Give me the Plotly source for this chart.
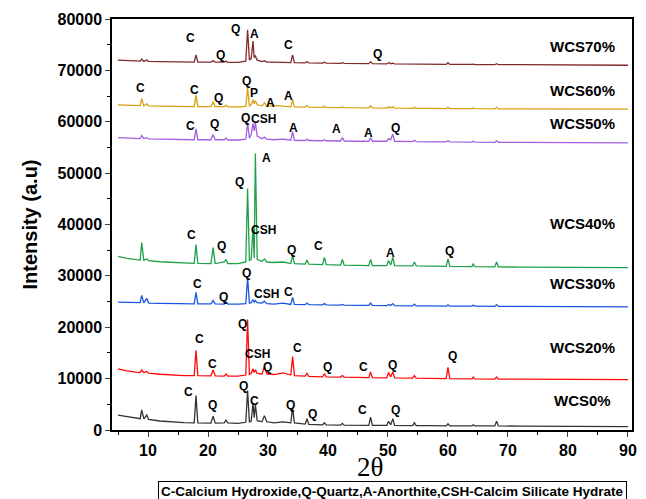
import plotly.graph_objects as go

# 2-theta positions shared by all patterns
two_theta = [5, 6.5, 8, 8.7, 8.95, 9.3, 9.8, 10.1, 12, 14, 16, 17.7, 18.0, 18.3, 20.5, 20.85, 21.2,
             22.7, 23.0, 23.3, 25, 26.3, 26.6, 26.9, 27.2, 27.5, 27.7, 27.9, 28.2, 29.0, 29.4, 29.8,
             31, 32.5, 33.8, 34.1, 34.4, 36.2, 36.5, 36.8, 39.1, 39.4, 39.7, 42.1, 42.4, 42.7, 45,
             46.8, 47.1, 47.4, 49.8, 50.1, 50.45, 50.8, 51.1, 54.1, 54.4, 54.7, 57, 59.7, 60.0, 60.3,
             64.0, 64.2, 64.5, 67.8, 68.1, 68.4, 72, 76, 80, 85, 90]

wcs0 = [2900, 2600, 2300, 2200, 3900, 2150, 2900, 2050, 1750, 1550, 1450, 1400, 6700, 1400, 1350, 2700, 1350,
        1400, 1900, 1400, 1300, 1500, 7700, 1600, 1700, 5300, 2400, 5000, 1800, 1600, 2800, 1600,
        1400, 1600, 1400, 4300, 1400, 1150, 2200, 1100, 1000, 1400, 1000, 950, 1300, 950, 900,
        900, 2500, 900, 900, 1700, 1000, 2200, 900, 850, 1400, 850, 850, 800, 1200, 800,
        800, 1000, 800, 800, 1700, 800, 750, 750, 700, 700, 650]

wcs20 = [11900, 11500, 11250, 11200, 11700, 11150, 11400, 11050, 10850, 10700, 10600, 10600, 15500, 10600, 10550, 11700, 10550,
         10500, 10900, 10500, 10500, 10700, 21500, 10800, 11000, 11900, 11200, 11700, 11000, 10900, 12300, 10900,
         10800, 11100, 10700, 14300, 10600, 10500, 11000, 10450, 10350, 10900, 10350, 10300, 10600, 10300, 10250,
         10200, 11300, 10200, 10150, 11200, 10300, 11300, 10150, 10100, 10600, 10100, 10050, 10000, 12200, 10000,
         9950, 10300, 9950, 9900, 10300, 9900, 9900, 9850, 9850, 9800, 9800]

wcs30 = [24900, 24850, 24800, 24800, 26200, 24750, 25600, 24700, 24650, 24600, 24600, 24550, 26800, 24550, 24550, 25200, 24550,
         24500, 25000, 24500, 24500, 24600, 29700, 24700, 24800, 25400, 24900, 25200, 24800, 24700, 25100, 24600,
         24500, 24700, 24450, 25800, 24450, 24400, 24700, 24400, 24350, 24600, 24350, 24300, 24450, 24300, 24250,
         24250, 24700, 24250, 24200, 24450, 24250, 24600, 24200, 24150, 24500, 24150, 24150, 24100, 24350, 24100,
         24100, 24300, 24100, 24050, 24400, 24050, 24050, 24000, 24000, 24000, 23950]

wcs40 = [33800, 33400, 33150, 33100, 36500, 33050, 33300, 32950, 32750, 32600, 32500, 32450, 36100, 32450, 32400, 35500, 32400,
         32700, 33200, 32400, 32400, 32700, 47000, 33000, 33200, 39200, 33500, 53800, 33200, 32800, 33300, 32700,
         32600, 32700, 32400, 34000, 32400, 32300, 33100, 32300, 32200, 33600, 32200, 32100, 33200, 32100, 32050,
         32000, 33200, 32000, 32000, 33000, 32100, 33600, 32000, 31950, 32700, 31950, 31900, 31850, 33300, 31850,
         31800, 32300, 31800, 31750, 32700, 31750, 31700, 31650, 31650, 31600, 31600]

wcs50 = [56900, 56800, 56750, 56700, 57300, 56700, 56900, 56650, 56600, 56550, 56550, 56500, 58600, 56500, 56500, 57500, 56500,
         56500, 56800, 56450, 56450, 56600, 59800, 56800, 57500, 59700, 58200, 59800, 57200, 56700, 57000, 56600,
         56500, 56600, 56400, 58100, 56400, 56350, 56600, 56350, 56300, 56500, 56300, 56250, 56900, 56250, 56200,
         56200, 56900, 56200, 56200, 56700, 56500, 57600, 56200, 56150, 56400, 56150, 56100, 56100, 56300, 56100,
         56050, 56200, 56050, 56000, 56300, 56000, 56000, 55950, 55950, 55900, 55900]

wcs60 = [63300, 63200, 63150, 63150, 64500, 63100, 63500, 63100, 63050, 63000, 63000, 62950, 65200, 62950, 62950, 63900, 62950,
         62950, 63200, 62900, 62900, 63000, 66600, 63100, 63300, 64300, 63500, 64100, 63300, 63100, 63700, 63000,
         63200, 63000, 62900, 64300, 62900, 62850, 63100, 62850, 62800, 63000, 62800, 62750, 62900, 62750, 62700,
         62700, 63100, 62700, 62650, 62900, 62700, 62900, 62650, 62600, 62800, 62600, 62600, 62550, 62800, 62550,
         62550, 62700, 62550, 62500, 62800, 62500, 62500, 62500, 62450, 62450, 62450]

wcs70 = [72000, 71900, 71800, 71800, 72200, 71750, 72000, 71750, 71700, 71650, 71650, 71600, 73000, 71600, 71600, 71900, 71600,
         71600, 71800, 71550, 71550, 71800, 77900, 72000, 72300, 75700, 72500, 72800, 72000, 71700, 71900, 71600,
         71600, 71600, 71500, 73000, 71500, 71450, 71700, 71450, 71400, 71600, 71400, 71350, 71500, 71350, 71300,
         71300, 71700, 71300, 71250, 71500, 71300, 71400, 71250, 71200, 71300, 71200, 71200, 71150, 71500, 71150,
         71150, 71200, 71100, 71100, 71300, 71100, 71100, 71050, 71050, 71000, 71000]

series_names = ["WCS0%", "WCS20%", "WCS30%", "WCS40%", "WCS50%", "WCS60%", "WCS70%"]
series_values = [wcs0, wcs20, wcs30, wcs40, wcs50, wcs60, wcs70]
series_colors = ["#333333", "#ff0a0a", "#1a55e0", "#1fa048", "#a35fe0", "#d9a010", "#7f2b2b"]
name_label_y = [5800, 16100, 28500, 40200, 59600, 66000, 74600]

# phase marker labels (2theta, intensity, text)
phase_x = [16.7, 20.8, 26.0, 27.7, 33.8, 37.5, 45.8, 51.2,
           18.5, 20.8, 25.7, 28.3, 29.9, 35.0, 40.0, 46.0, 50.7, 60.7,
           18.3, 22.5, 26.5, 29.7, 33.5,
           17.2, 22.2, 25.2, 29.7, 29.3, 34.0, 38.5, 50.5, 60.2,
           17.0, 21.0, 26.2, 29.2, 34.3, 41.5, 46.7, 51.3,
           8.7, 17.8, 21.7, 26.5, 27.7, 30.5, 33.5,
           17.0, 22.0, 24.5, 27.7, 33.5, 48.2]
phase_y = [7400, 4900, 8500, 5600, 4900, 3100, 3900, 3900,
           17700, 12800, 20600, 14700, 12200, 15900, 12200, 12200, 12600, 14400,
           28500, 25800, 30500, 26400, 26800,
           38000, 35900, 48300, 53000, 39000, 35100, 35900, 34400, 34800,
           59200, 59600, 60800, 60600, 58800, 58600, 57900, 58800,
           66600, 66200, 64700, 68000, 65600, 63700, 65000,
           76300, 73000, 78000, 77100, 74900, 73200]
phase_text = ["C", "Q", "Q", "C", "Q", "Q", "C", "Q",
              "C", "C", "Q", "CSH", "Q", "C", "Q", "C", "Q", "Q",
              "C", "Q", "Q", "CSH", "C",
              "C", "Q", "Q", "A", "CSH", "Q", "C", "A", "Q",
              "C", "Q", "Q", "CSH", "A", "A", "A", "Q",
              "C", "C", "Q", "Q", "P", "A", "A",
              "C", "Q", "Q", "A", "C", "Q"]

legend_text = "C-Calcium Hydroxide,Q-Quartz,A-Anorthite,CSH-Calcim Silicate Hydrate"

FONT = "Liberation Sans, Arial, sans-serif"

# the page body has an 8px margin, so the figure is drawn 8px right / 8px down
FIG_W, FIG_H = 638, 491
ML, MR, MT, MB = 104, 14, 11, 69
PLOT_W = FIG_W - ML - MR
PLOT_H = FIG_H - MT - MB

fig = go.Figure()
for name, vals, col in zip(series_names, series_values, series_colors):
    fig.add_trace(go.Scatter(x=two_theta, y=vals, mode="lines", name=name,
                             line=dict(color=col, width=1.3), showlegend=False))

annotations = []
for name, ly in zip(series_names, name_label_y):
    annotations.append(dict(x=82.5, y=ly, xref="x", yref="y", text="<b>%s</b>" % name,
                            showarrow=False, font=dict(family=FONT, size=15, color="black")))
for px, py, t in zip(phase_x, phase_y, phase_text):
    annotations.append(dict(x=px, y=py, xref="x", yref="y", text="<b>%s</b>" % t,
                            showarrow=False, font=dict(family=FONT, size=12, color="black")))
annotations.append(dict(x=(370 - 112) / PLOT_W, y=-37.0 / PLOT_H, xref="paper", yref="paper", text="2θ",
                        showarrow=False, xanchor="center", yanchor="middle",
                        font=dict(family="Liberation Serif, Times New Roman, serif", size=27, color="black")))
annotations.append(dict(x=(158 - 112) / PLOT_W, y=-51.0 / PLOT_H, xref="paper", yref="paper",
                        text="<b>%s</b>" % legend_text,
                        showarrow=False, xanchor="left", yanchor="top", align="left",
                        bordercolor="black", borderwidth=1, borderpad=2,
                        font=dict(family=FONT, size=13.5, color="black")))

fig.update_layout(
    width=FIG_W, height=FIG_H,
    margin=dict(l=ML, r=MR, t=MT, b=MB),
    paper_bgcolor="white", plot_bgcolor="white",
    annotations=annotations,
    xaxis=dict(range=[4.0, 90.67], tick0=0, dtick=10, ticks="outside", ticklen=5, tickwidth=1.2,
               showline=True, linecolor="black", linewidth=1.5, mirror=True, showgrid=False,
               zeroline=False, tickfont=dict(family=FONT, size=16, color="black"),
               tickprefix="<b>", ticksuffix="</b>", automargin=False,
               minor=dict(dtick=5, ticks="outside", ticklen=3, tickcolor="black", showgrid=False)),
    yaxis=dict(range=[0, 80000], tick0=0, dtick=10000, ticks="outside", ticklen=5, tickwidth=1.2,
               tickformat="d",
               showline=True, linecolor="black", linewidth=1.5, mirror=True, showgrid=False,
               zeroline=False, tickfont=dict(family=FONT, size=16, color="black"),
               tickprefix="<b>", ticksuffix="</b>", automargin=False,
               title=dict(text="<b>Intensity (a.u)</b>", font=dict(family=FONT, size=20, color="black"),
                          standoff=15),
               minor=dict(dtick=5000, ticks="outside", ticklen=3, tickcolor="black", showgrid=False)),
)

fig.write_html("out.html")
